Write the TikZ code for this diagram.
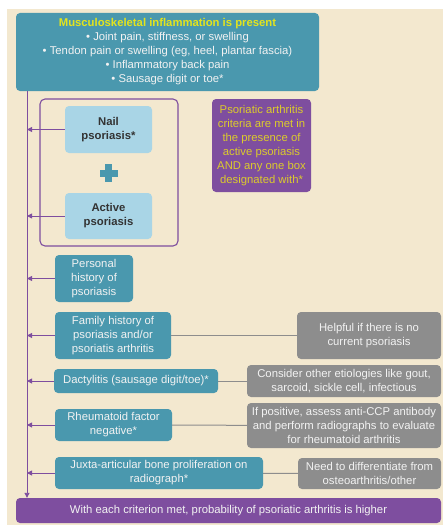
\documentclass[tikz,border=0pt]{standalone}
\usepackage{fontspec}
\setmainfont{Liberation Sans}
\usepackage{xcolor}
\usetikzlibrary{arrows.meta,positioning}
\definecolor{teal}{HTML}{4A98AE}
\definecolor{sky}{HTML}{A9D5E6}
\definecolor{plum}{HTML}{7E4E9F}
\definecolor{slate}{HTML}{8D8D8D}
\definecolor{cream}{HTML}{F3E8CF}
\definecolor{lemon}{HTML}{E3E41E}
\definecolor{gold}{HTML}{DCCB2C}
\definecolor{ink}{HTML}{333333}
\definecolor{paper}{HTML}{F2F2F2}
\tikzset{
  box/.style={rectangle, rounded corners=4pt, align=center, inner sep=1pt,
              font=\fontsize{11.3}{14}\selectfont},
  crit/.style={box, fill=teal, text=paper},
  skin/.style={box, fill=sky, text=ink, font=\fontsize{11.3}{14}\selectfont\bfseries},
  note/.style={box, fill=slate, text=paper},
  call/.style={box, fill=plum, text=gold},
  fl/.style={-{Triangle[length=5pt,width=5pt]}, draw=plum, line width=0.9pt},
  tie/.style={draw=slate, line width=1pt}
}
\begin{document}
\begin{tikzpicture}[x=1pt,y=-1pt]
  \useasboundingbox (0,0) rectangle (443,527);
  \fill[cream] (7,9) rectangle (443,525);

  % top and bottom
  \node[crit, minimum width=303pt, minimum height=78pt] (msk) at (167.5,52)
    {{\bfseries\color{lemon}Musculoskeletal inflammation is present}\\
     \textbullet\ Joint pain, stiffness, or swelling\\
     \textbullet\ Tendon pain or swelling (eg, heel, plantar fascia)\\
     \textbullet\ Inflammatory back pain\\
     \textbullet\ Sausage digit or toe*};
  \node[box, fill=plum, text=paper, minimum width=425pt, minimum height=25pt] (prob) at (228.5,510.5)
    {With each criterion met, probability of psoriatic arthritis is higher};
  \coordinate (top) at (27,91);
  \draw[fl] (top) -- (top |- prob.north);

  % psoriasis group
  \node[draw=plum, line width=1.1pt, rounded corners=5pt, minimum width=138pt, minimum height=147pt] (grp) at (109,172.5) {};
  \node[skin, minimum width=87pt, minimum height=47pt] (nail) at (108.5,129.5) {Nail\\psoriasis*};
  \node[skin, minimum width=87pt, minimum height=46pt] (active) at (108.5,216) {Active\\psoriasis};
  \node[minimum size=18pt, inner sep=0pt] (plus) at (108.5,173) {};
  \fill[teal] (plus.center) ++(-9,-3.5) rectangle ++(18,7);
  \fill[teal] (plus.center) ++(-3.5,-9) rectangle ++(7,18);
  \node[call, minimum width=99pt, minimum height=93pt] (rule) at (261.5,145.5)
    {Psoriatic arthritis\\criteria are met in\\the presence of\\active psoriasis\\AND any one box\\designated with*};

  % criteria
  \node[crit, minimum width=78pt, minimum height=47pt] (pers) at (94,278.5) {Personal\\history of\\psoriasis};
  \node[crit, minimum width=116pt, minimum height=47pt] (fam) at (113,335.5) {Family history of\\psoriasis and/or\\psoriatis arthritis};
  \node[crit, minimum width=164pt, minimum height=24pt] (dact) at (136,381) {Dactylitis (sausage digit/toe)*};
  \node[crit, minimum width=117pt, minimum height=32pt] (rf) at (113.5,425) {Rheumatoid factor\\negative*};
  \node[crit, minimum width=208pt, minimum height=32pt] (juxta) at (159,473) {Juxta-articular bone proliferation on\\radiograph*};

  % notes
  \node[note, minimum width=144pt, minimum height=47pt] (famn) at (369,335.5) {Helpful if there is no\\current psoriasis};
  \node[note, minimum width=194pt, minimum height=32pt] (dactn) at (344,381) {Consider other etiologies like gout,\\sarcoid, sickle cell, infectious};
  \node[note, minimum width=194pt, minimum height=45pt] (rfn) at (344,425.5) {If positive, assess anti-CCP antibody\\and perform radiographs to evaluate\\for rheumatoid arthritis};
  \node[note, minimum width=143pt, minimum height=31pt] (juxtan) at (369.5,473.5) {Need to differentiate from\\osteoarthritis/other};

  \foreach \n in {nail,active,pers,fam,dact,rf,juxta}
    \draw[fl] (\n.west) -- (\n.west -| top);
  \draw[tie] (fam) -- (famn);
  \draw[tie] (dact) -- (dactn);
  \draw[tie] (rf) -- (rfn);
  \draw[tie] (juxta) -- (juxtan);
\end{tikzpicture}
\end{document}
